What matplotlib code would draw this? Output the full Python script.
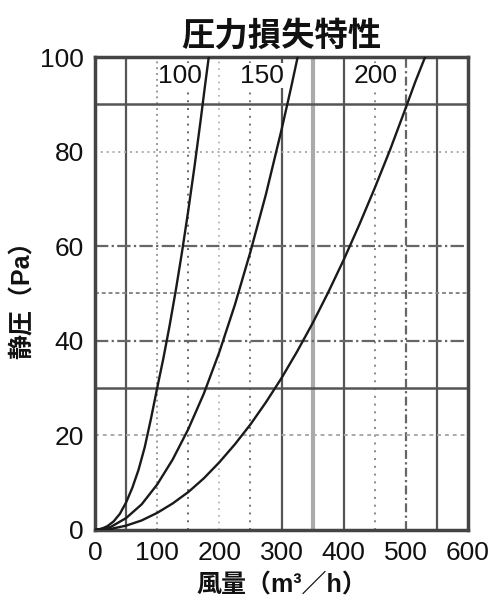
import matplotlib
matplotlib.use("Agg")
import matplotlib.pyplot as plt

plt.rcParams['font.family'] = ['Liberation Sans', 'Noto Sans CJK JP', 'DejaVu Sans']

# Data
curve_names = ["100", "150", "200"]
x_100 = [0, 10, 20, 30, 40, 50, 60, 70, 80, 90, 100, 110, 120, 130, 140, 150, 160, 170, 177, 183]
y_100 = [0, 0.2, 0.8, 1.8, 3.4, 5.8, 8.9, 12.7, 17.5, 23.5, 30, 36.3, 43.2, 50.7, 58.8, 67.5, 76.8, 86.7, 94, 100]
x_150 = [0, 25, 50, 75, 100, 125, 150, 175, 200, 225, 250, 275, 300, 315, 326]
y_150 = [0, 0.6, 2.5, 5.4, 9.6, 14.9, 21.3, 28.8, 37.6, 47.6, 58.8, 71, 84.6, 93.3, 100]
x_200 = [0, 25, 50, 75, 100, 125, 150, 175, 200, 225, 250, 275, 300, 325, 350, 375, 400, 425, 450, 475, 500, 515, 531]
y_200 = [0, 0.2, 0.9, 2.0, 3.6, 5.6, 8.0, 10.9, 14.3, 18.1, 22.3, 27.0, 32.1, 37.7, 43.7, 50.2, 57.1, 64.5, 72.3, 80.5, 89.3, 94.7, 100]
label_x = [137, 268, 451]
label_y = [96, 96, 96]

x_ticks = [0, 100, 200, 300, 400, 500, 600]
y_ticks = [0, 20, 40, 60, 80, 100]

title = "圧力損失特性"
xlabel = "風量（m³／h）"
ylabel = "静圧（Pa）"

fig = plt.figure(figsize=(5, 6.07), dpi=100)
ax = fig.add_axes([0.19, 0.127, 0.746, 0.779])
ax.set_xlim(0, 600)
ax.set_ylim(0, 100)

# Grid lines (styles)
dark = "#555555"
vgrid = [
    (50, dict(color=dark, lw=1.6, ls="-")),
    (100, dict(color="#999999", lw=1.4, ls=(0, (1, 2)))),
    (150, dict(color="#666666", lw=1.4, ls=(0, (1, 3)))),
    (200, dict(color="#aaaaaa", lw=1.2, ls=(0, (1, 3)))),
    (250, dict(color="#777777", lw=1.4, ls=(0, (1, 3)))),
    (300, dict(color=dark, lw=1.6, ls="-")),
    (350, dict(color="#aaaaaa", lw=3.0, ls="-")),
    (400, dict(color=dark, lw=1.6, ls="-")),
    (450, dict(color="#888888", lw=1.4, ls=(0, (1, 3)))),
    (500, dict(color="#666666", lw=1.6, ls=(0, (4, 1.5, 1, 1.5)))),
    (550, dict(color=dark, lw=1.6, ls="-")),
]
hgrid = [
    (90, dict(color=dark, lw=1.8, ls="-")),
    (80, dict(color="#aaaaaa", lw=1.4, ls=(0, (1, 2)))),
    (60, dict(color="#666666", lw=1.6, ls=(0, (6, 1.5, 1, 1.5)))),
    (50, dict(color="#888888", lw=1.4, ls=(0, (2, 1.5)))),
    (40, dict(color="#666666", lw=1.6, ls=(0, (6, 1.5, 1, 1.5)))),
    (30, dict(color=dark, lw=1.8, ls="-")),
    (20, dict(color="#aaaaaa", lw=1.4, ls=(0, (2, 2)))),
]
for xv, st in vgrid:
    ax.axvline(xv, zorder=1, **st)
for yv, st in hgrid:
    ax.axhline(yv, zorder=1, **st)

for xs, ys in [(x_100, y_100), (x_150, y_150), (x_200, y_200)]:
    ax.plot(xs, ys, color="#1a1a1a", lw=1.7, zorder=3, clip_on=True)

for name, lx, ly in zip(curve_names, label_x, label_y):
    ax.text(lx, ly, name, fontsize=19, ha="center", va="center", color="#111111",
            zorder=4, bbox=dict(facecolor="white", edgecolor="none", pad=0.3))

for sp in ax.spines.values():
    sp.set_linewidth(2.5)
    sp.set_color("#444444")

ax.set_xticks(x_ticks)
ax.set_yticks(y_ticks)
ax.tick_params(axis="both", length=0, labelsize=19, colors="#111111", pad=8)

ax.set_title(title, fontsize=24, fontweight="bold", pad=8, color="#111111")
ax.set_xlabel(xlabel, fontsize=18, fontweight="bold", labelpad=6, color="#111111")
ax.set_ylabel(ylabel, fontsize=18, fontweight="bold", labelpad=4, color="#111111")

fig.savefig("out.png", dpi=100)
